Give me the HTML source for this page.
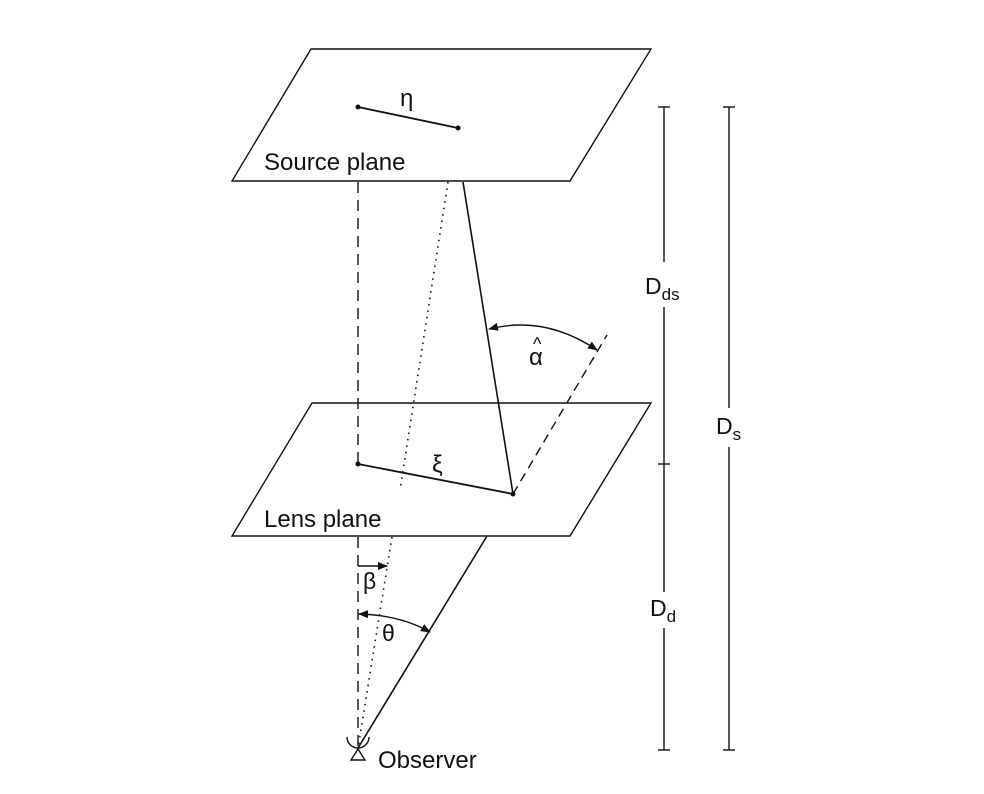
<!DOCTYPE html>
<html><head><meta charset="utf-8"><style>
html,body{margin:0;padding:0;background:#fff;}
svg{display:block;}
text{font-family:"Liberation Sans","DejaVu Sans",sans-serif;fill:#111;}
</style></head><body>
<svg width="984" height="794" viewBox="0 0 984 794" xmlns="http://www.w3.org/2000/svg">
<defs>
<marker id="ah" markerWidth="10" markerHeight="8" refX="9" refY="4" orient="auto" markerUnits="userSpaceOnUse">
<path d="M0,0 L10,4 L0,8 Z" fill="#111"/></marker>
<marker id="ahs" markerWidth="10" markerHeight="8" refX="1" refY="4" orient="auto" markerUnits="userSpaceOnUse">
<path d="M10,0 L0,4 L10,8 Z" fill="#111"/></marker>
</defs>
<g stroke="#111" stroke-width="1.4" fill="none">
<polygon points="311,49 651,49 570,181 232,181" fill="#fff"/>
<polygon points="312,403 651,403 570,536 232,536" fill="#fff"/>
<line x1="358" y1="107" x2="458" y2="128" stroke-width="1.8"/>
<line x1="358" y1="182" x2="358" y2="464" stroke-dasharray="11,7"/>
<line x1="448" y1="182" x2="400" y2="490" stroke-dasharray="1.5,5" stroke-width="1.6"/>
<line x1="463" y1="182" x2="513" y2="494" stroke-width="1.6"/>
<line x1="513" y1="494" x2="607" y2="335" stroke-dasharray="9,6"/>
<path d="M489,329 Q545,315 597,350" marker-start="url(#ahs)" marker-end="url(#ah)"/>
<line x1="358" y1="464" x2="513" y2="494" stroke-width="1.8"/>
<line x1="358" y1="537" x2="358" y2="748" stroke-dasharray="11,7"/>
<line x1="392" y1="537" x2="358" y2="748" stroke-dasharray="1.5,5" stroke-width="1.6"/>
<line x1="487" y1="536" x2="358" y2="748" stroke-width="1.6"/>
<line x1="358" y1="566" x2="387" y2="566" marker-end="url(#ah)"/>
<path d="M359,614 Q400,615 430,632" marker-start="url(#ahs)" marker-end="url(#ah)"/>
<path d="M347,737 A11,11 0 0 0 369,737"/>
<polygon points="358,749 351,760 365,760"/>
<line x1="664" y1="107" x2="664" y2="262"/>
<line x1="664" y1="307" x2="664" y2="592"/>
<line x1="664" y1="628" x2="664" y2="750"/>
<line x1="658" y1="107" x2="670" y2="107"/>
<line x1="658" y1="464" x2="670" y2="464"/>
<line x1="658" y1="750" x2="670" y2="750"/>
<line x1="729" y1="107" x2="729" y2="408"/>
<line x1="729" y1="447" x2="729" y2="750"/>
<line x1="723" y1="107" x2="735" y2="107"/>
<line x1="723" y1="750" x2="735" y2="750"/>
</g>
<circle cx="358" cy="107" r="2.5" fill="#111"/>
<circle cx="458" cy="128" r="2.5" fill="#111"/>
<circle cx="358" cy="464" r="2.5" fill="#111"/>
<circle cx="513" cy="494" r="2.5" fill="#111"/>
<text x="264" y="170" font-size="24">Source plane</text>
<text x="264" y="527" font-size="24">Lens plane</text>
<text x="378" y="768" font-size="24">Observer</text>
<text x="400" y="106" font-size="24">η</text>
<text x="432" y="472" font-size="24">ξ</text>
<text x="529" y="365" font-size="24">α</text>
<text x="533" y="350" font-size="18">^</text>
<text x="363" y="589" font-size="23">β</text>
<text x="382" y="641" font-size="23">θ</text>
<text x="645" y="294" font-size="23">D<tspan font-size="17" dy="6">ds</tspan></text>
<text x="650" y="616" font-size="23">D<tspan font-size="17" dy="6">d</tspan></text>
<text x="716" y="434" font-size="23">D<tspan font-size="17" dy="6">s</tspan></text>
</svg>
</body></html>
